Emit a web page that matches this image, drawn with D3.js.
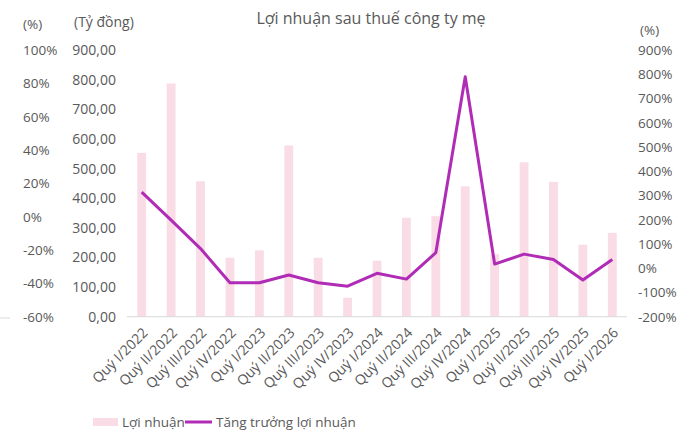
<!DOCTYPE html>
<html>
<head>
<meta charset="utf-8">
<script src="https://cdn.jsdelivr.net/npm/d3@7"></script>
<style>
  body { margin: 0; background: #fff; }
  svg text { font-family: "Open Sans", "Noto Sans", sans-serif; fill: #595959; }
</style>
</head>
<body>
<div id="chart"></div>
<script>
// Lợi nhuận sau thuế công ty mẹ
const quarters = ["Quý I/2022", "Quý II/2022", "Quý III/2022", "Quý IV/2022",
  "Quý I/2023", "Quý II/2023", "Quý III/2023", "Quý IV/2023",
  "Quý I/2024", "Quý II/2024", "Quý III/2024", "Quý IV/2024",
  "Quý I/2025", "Quý II/2025", "Quý III/2025", "Quý IV/2025", "Quý I/2026"];
const profit = [553, 787, 457, 199, 224, 578, 199, 64, 189, 334, 339, 440, 211, 521, 455, 243, 283];
const growth = [314, 198, 81, -60, -60, -28, -60, -74, -21, -45, 64, 790, 17, 58, 36, -49, 36];

const profitTicks = [0, 100, 200, 300, 400, 500, 600, 700, 800, 900];
const growthTicks = [-200, -100, 0, 100, 200, 300, 400, 500, 600, 700, 800, 900];
const leftPctTicks = [-60, -40, -20, 0, 20, 40, 60, 80, 100];

const width = 692, height = 435;
const plot = { left: 127, right: 627, top: 50, bottom: 316.7 };
const barColor = "#f9dce6", lineColor = "#b02cb6";
const fontStack = "\"Open Sans\", \"Noto Sans\", sans-serif";

const svg = d3.select("#chart").append("svg")
  .attr("width", width)
  .attr("height", height);

const x = d3.scaleBand()
  .domain(quarters)
  .range([plot.left, plot.right])
  .paddingInner(0.7)
  .paddingOuter(0.35);

const yBar = d3.scaleLinear().domain([0, 900]).range([plot.bottom, plot.top]);
const yGrowth = d3.scaleLinear().domain([-200, 900]).range([plot.bottom, plot.top]);
const yLeftPct = d3.scaleLinear().domain([-60, 100]).range([plot.bottom, plot.top]);

const commaFmt = d => d3.format(".2f")(d).replace(".", ",");

// title
svg.append("text")
  .attr("x", 371).attr("y", 18)
  .attr("text-anchor", "middle")
  .attr("dominant-baseline", "central")
  .style("font-size", "16px")
  .text("Lợi nhuận sau thuế công ty mẹ");

// unit labels
svg.append("text").attr("x", 23).attr("y", 24).attr("dominant-baseline", "central")
  .style("font-size", "13.5px").text("(%)");
svg.append("text").attr("x", 74).attr("y", 21).attr("dominant-baseline", "central")
  .style("font-size", "14px").text("(Tỷ đồng)");
svg.append("text").attr("x", 640).attr("y", 30).attr("dominant-baseline", "central")
  .style("font-size", "13.5px").text("(%)");

// small stray rule at the left edge
svg.append("line")
  .attr("x1", 0).attr("x2", 10).attr("y1", 318).attr("y2", 318)
  .style("stroke", "#d9d9d9");

function styleAxis(size) {
  return g => {
    g.select("path.domain").remove();
    g.selectAll(".tick line").remove();
    g.selectAll("text").style("font-size", size).style("fill", "#595959")
      .style("font-family", fontStack);
  };
}

// outer left percent axis
svg.append("g")
  .attr("transform", "translate(23,0)")
  .call(d3.axisRight(yLeftPct).tickValues(leftPctTicks).tickSize(0).tickPadding(0)
    .tickFormat(d => d + "%"))
  .call(styleAxis("13.5px"));

// profit axis
svg.append("g")
  .attr("transform", "translate(116,0)")
  .call(d3.axisLeft(yBar).tickValues(profitTicks).tickSize(0).tickPadding(0)
    .tickFormat(commaFmt))
  .call(styleAxis("14px"));

// right growth axis
svg.append("g")
  .attr("transform", "translate(638,0)")
  .call(d3.axisRight(yGrowth).tickValues(growthTicks).tickSize(0).tickPadding(0)
    .tickFormat(d => d + "%"))
  .call(styleAxis("13.5px"));

// bars
svg.selectAll(".bar")
  .data(profit)
  .enter()
  .append("rect")
  .attr("class", "bar")
  .attr("x", (d, i) => x(quarters[i]))
  .attr("y", d => yBar(d))
  .attr("width", x.bandwidth())
  .attr("height", d => yBar(0) - yBar(d))
  .attr("fill", barColor);

// baseline
svg.append("line")
  .attr("x1", plot.left).attr("x2", plot.right)
  .attr("y1", yBar(0)).attr("y2", yBar(0))
  .style("stroke", "#d9d9d9");

// growth line
const line = d3.line()
  .x((d, i) => x(quarters[i]) + x.bandwidth() / 2)
  .y(d => yGrowth(d));

svg.append("path")
  .datum(growth)
  .attr("d", line)
  .attr("fill", "none")
  .attr("stroke", lineColor)
  .attr("stroke-width", 3)
  .attr("stroke-linejoin", "round");

// x labels
const xAxis = svg.append("g")
  .attr("transform", `translate(0, ${plot.bottom})`)
  .call(d3.axisBottom(x).tickSize(0).tickPadding(0));
xAxis.select("path.domain").remove();
xAxis.selectAll("text")
  .style("font-size", "14px")
  .style("fill", "#595959")
  .style("font-family", fontStack)
  .attr("text-anchor", "end")
  .attr("dy", "0")
  .attr("transform", "translate(7,17) rotate(-45)");

// legend
const legend = svg.append("g");
legend.append("rect")
  .attr("x", 93).attr("y", 418).attr("width", 25).attr("height", 8)
  .attr("fill", barColor);
legend.append("text")
  .attr("x", 122).attr("y", 422).attr("dominant-baseline", "central")
  .style("font-size", "13.5px").text("Lợi nhuận");
legend.append("line")
  .attr("x1", 185).attr("x2", 212).attr("y1", 422).attr("y2", 422)
  .attr("stroke", lineColor).attr("stroke-width", 3);
legend.append("text")
  .attr("x", 216).attr("y", 422).attr("dominant-baseline", "central")
  .style("font-size", "13.5px").text("Tăng trưởng lợi nhuận");
</script>
</body>
</html>
